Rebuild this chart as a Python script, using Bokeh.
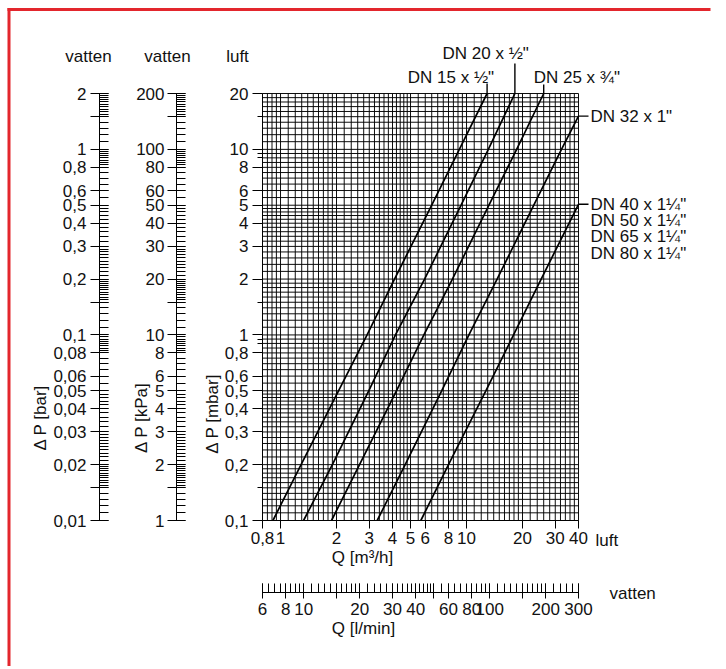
import numpy as np
from bokeh.plotting import figure
from bokeh.models import (Range1d, FixedTicker, Label, LogAxis, LogScale,
                          CustomJSTickFormatter)
from bokeh.embed import file_html
from bokeh.resources import INLINE

# ---------------- data ----------------
dp_dn15 = [0.1, 0.2, 0.5, 1, 2, 5, 10, 20]
q_dn15 = [0.91, 1.29, 2.05, 2.92, 4.1, 6.5, 9.15, 12.9]
dp_dn20 = [0.1, 0.2, 0.5, 1, 2, 5, 10, 20]
q_dn20 = [1.33, 1.9, 2.98, 4.15, 5.95, 9.35, 13.1, 18.2]
dp_dn25 = [0.1, 0.2, 0.5, 1, 2, 5, 10, 20]
q_dn25 = [1.88, 2.66, 4.2, 5.9, 8.4, 13.2, 18.6, 26.0]
dp_dn32 = [0.1, 0.2, 0.5, 1, 2, 5, 10, 15.1]
q_dn32 = [3.31, 4.68, 7.35, 10.3, 14.6, 23.0, 32.4, 40.0]
dp_dn40 = [0.1, 0.2, 0.5, 1, 2, 5.06]
q_dn40 = [5.68, 8.0, 12.7, 17.9, 25.2, 40.0]

label_dn15 = 'DN 15 x ½"'
label_dn20 = 'DN 20 x ½"'
label_dn25 = 'DN 25 x ¾"'
label_dn32 = 'DN 32 x 1"'
labels_dn40 = ['DN 40 x 1¼"', 'DN 50 x 1¼"', 'DN 65 x 1¼"', 'DN 80 x 1¼"']

q_ticks = [0.8, 1, 2, 3, 4, 5, 6, 8, 10, 20, 30, 40]
mbar_ticks = [0.1, 0.2, 0.3, 0.4, 0.5, 0.6, 0.8, 1, 2, 3, 4, 5, 6, 8, 10, 20]
mbar_minor = [0.15, 0.9, 0.95, 1.5, 9, 9.5, 15]
bar_ticks = [0.01, 0.02, 0.03, 0.04, 0.05, 0.06, 0.08, 0.1, 0.2, 0.3, 0.4, 0.5, 0.6, 0.8, 1, 2]
kpa_ticks = [1, 2, 3, 4, 5, 6, 8, 10, 20, 30, 40, 50, 60, 80, 100, 200]
lmin_ticks = [6, 8, 10, 20, 30, 40, 60, 80, 100, 200, 300]

# unit relations between the scales
BAR_PER_MBAR = 0.1
KPA_PER_MBAR = 10.0
LMIN_PER_M3H = 7.5

# ---------------- styling / geometry (canvas pixels) ----------------
FONT = "Liberation Sans"
FS = "17px"
TXT = "#111111"
RED = "#e3262d"
W, H = 724, 666
GX0, GX1 = 262, 578        # main grid left/right
GY0, GY1 = 93, 520         # main grid top/bottom
PPD_X = (GX1 - GX0) / np.log10(40 / 0.8)
PPD_Y = (GY1 - GY0) / np.log10(20 / 0.1)


def qx(px):
    return 0.8 * 10 ** ((px - GX0) / PPD_X)


def dpy(py):
    return 20 * 10 ** (-(py - GY0) / PPD_Y)


x_lo, x_hi = qx(0), qx(W)
y_lo, y_hi = dpy(H), dpy(0)


def comb(lo, hi, steps):
    out = []
    for e in range(-3, 4):
        for a, b, s in steps:
            for m in np.arange(a, b - 1e-9, s):
                v = round(float(m) * 10.0 ** e, 12)
                if lo - 1e-12 <= v <= hi + 1e-12:
                    out.append(v)
    return sorted(set(out))


COMB_STEPS = ((1, 1.5, 0.1), (1.5, 2, 0.05), (2, 3, 0.1), (3, 5, 0.2),
              (5, 8, 0.5), (8, 10, 0.25))
GRID_STEPS = ((1, 2, 0.1), (2, 5, 0.2), (5, 10, 0.5))


def fmt(blank=()):
    return CustomJSTickFormatter(args=dict(blank=list(blank)), code="""
        for (const b of blank) { if (Math.abs(tick - b) <= 1e-9 * b) return ''; }
        return String(Number(tick.toPrecision(6))).replace('.', ',');
    """)


p = figure(width=W, height=H, x_axis_type="log", y_axis_type="log",
           x_range=Range1d(x_lo, x_hi), y_range=Range1d(y_lo, y_hi),
           x_axis_location=None, y_axis_location=None, min_border=0,
           toolbar_location=None, output_backend="svg", outline_line_color=None)
p.grid.visible = False
p.extra_y_ranges = {"bar": Range1d(y_lo * BAR_PER_MBAR, y_hi * BAR_PER_MBAR),
                    "kpa": Range1d(y_lo * KPA_PER_MBAR, y_hi * KPA_PER_MBAR)}
p.extra_y_scales = {"bar": LogScale(), "kpa": LogScale()}
p.extra_x_ranges = {"lmin": Range1d(x_lo * LMIN_PER_M3H, x_hi * LMIN_PER_M3H)}
p.extra_x_scales = {"lmin": LogScale()}


def make_axis(side, ticks, minor, blank, bounds, loc, tin, tout, min_in, min_out,
              standoff, **kw):
    ax = LogAxis(fixed_location=loc, bounds=bounds, **kw)
    ax.ticker = FixedTicker(ticks=sorted(ticks + list(blank)), minor_ticks=minor)
    ax.formatter = fmt(blank)
    ax.axis_line_color = "black"
    ax.major_tick_line_color = "black"
    ax.minor_tick_line_color = "black"
    ax.major_label_text_font = FONT
    ax.major_label_text_font_size = FS
    ax.major_label_text_color = TXT
    ax.major_tick_in, ax.major_tick_out = tin, tout
    ax.minor_tick_in, ax.minor_tick_out = min_in, min_out
    ax.major_label_standoff = standoff
    p.add_layout(ax, side)
    return ax


# red frame of the figure box (left and top edges)
p.segment(x0=[qx(8.5), qx(7)], y0=[dpy(7.5), dpy(9)], x1=[qx(8.5), qx(W - 14)],
          y1=[dpy(H), dpy(9)], line_color=RED, line_width=3)

# grid of the main (luft) chart
gx = comb(0.8, 40, GRID_STEPS)
gy = comb(0.1, 20, GRID_STEPS)
p.segment(x0=gx, y0=[0.1] * len(gx), x1=gx, y1=[20] * len(gx),
          line_color="black", line_width=1, line_alpha=0.95)
p.segment(x0=[0.8] * len(gy), y0=gy, x1=[40] * len(gy), y1=gy,
          line_color="black", line_width=1, line_alpha=0.95)

# axes
make_axis("left", bar_ticks, comb(0.01, 2, COMB_STEPS), [0.015, 0.15, 1.5], (0.01, 2),
          qx(99), 9, 9, 9, 0, 4, y_range_name="bar")
make_axis("left", kpa_ticks, comb(1, 200, COMB_STEPS), [1.5, 15, 150], (1, 200),
          qx(176), 9, 9, 9, 0, 3, y_range_name="kpa")
make_axis("left", mbar_ticks, mbar_minor, [], (0.1, 20), 0.8, 0, 10, 0, 5, 4)
make_axis("below", q_ticks, [], [], (0.8, 40), 0.1, 0, 8, 0, 0, 3)
make_axis("below", lmin_ticks, comb(6, 300, GRID_STEPS), [15, 50, 150], (6, 300),
          dpy(592), 9, 6, 9, 0, 4, x_range_name="lmin")

# curves
for q, dp in ((q_dn15, dp_dn15), (q_dn20, dp_dn20), (q_dn25, dp_dn25),
              (q_dn32, dp_dn32), (q_dn40, dp_dn40)):
    p.line(q, dp, line_color="black", line_width=1.7)


def up(v, px):
    return v * 10 ** (px / PPD_Y)


def right(v, px):
    return v * 10 ** (px / PPD_X)


# leader lines to the curve labels
lx0 = [q_dn20[-1], q_dn15[-1], q_dn25[-1], 40, 40]
ly0 = [20, 20, 20, dp_dn32[-1], dp_dn40[-1]]
lx1 = [q_dn20[-1], q_dn15[-1], q_dn25[-1], right(40, 10), right(40, 10)]
ly1 = [up(20, 30), up(20, 10), up(20, 9), dp_dn32[-1], dp_dn40[-1]]
p.segment(x0=lx0, y0=ly0, x1=lx1, y1=ly1, line_color="black", line_width=1.4)


def lab(x, y, text, xo=0, yo=0, align="left", angle=0.0):
    p.add_layout(Label(x=x, y=y, text=text, x_offset=xo, y_offset=yo,
                       text_align=align, text_baseline="middle", angle=angle,
                       text_font=FONT, text_font_size=FS, text_color=TXT))


lab(q_dn20[-1], 20, label_dn20, xo=14, yo=40, align="right")
lab(q_dn15[-1], 20, label_dn15, xo=7, yo=16, align="right")
lab(q_dn25[-1], 20, label_dn25, xo=-10, yo=16, align="left")
lab(40, dp_dn32[-1], label_dn32, xo=12)
for i, t in enumerate(labels_dn40):
    lab(40, dp_dn40[-1], t, xo=12, yo=-16.3 * i)

# scale titles
lab(qx(88), dpy(56), "vatten", align="center")
lab(qx(167), dpy(56), "vatten", align="center")
lab(qx(237), dpy(56), "luft", align="center")
lab(qx(40), dpy(417), "Δ P [bar]", align="center", angle=np.pi / 2)
lab(qx(141), dpy(417), "Δ P [kPa]", align="center", angle=np.pi / 2)
lab(qx(212), dpy(413), "Δ P [mbar]", align="center", angle=np.pi / 2)
lab(qx(362), dpy(557), "Q [m³/h]", align="center")
lab(qx(595), dpy(540), "luft", align="left")
lab(qx(363), dpy(628), "Q [l/min]", align="center")
lab(qx(609), dpy(593), "vatten", align="left")

open("out.html", "w").write(file_html(p, INLINE))
